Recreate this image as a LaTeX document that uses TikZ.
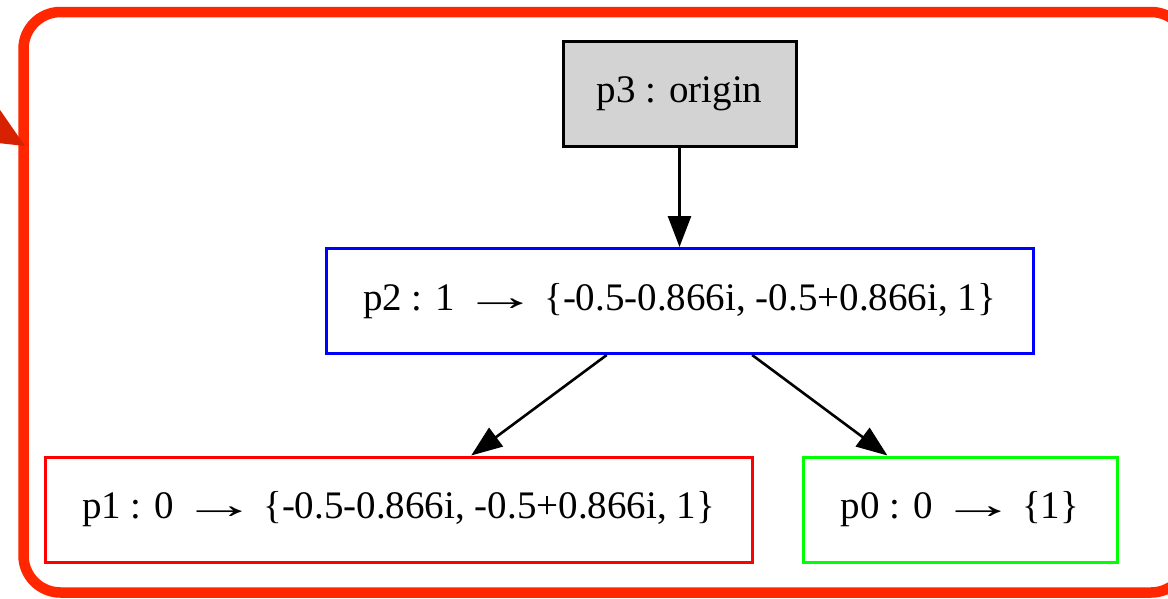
\documentclass[tikz,border=0pt]{standalone}
\usepackage{fontspec}
\setmainfont{Liberation Serif}
\usetikzlibrary{arrows.meta}
\definecolor{framered}{RGB}{255,38,0}
\definecolor{tipred}{RGB}{214,34,0}
\definecolor{boxgray}{RGB}{211,211,211}
\definecolor{gvblue}{RGB}{0,0,255}
\definecolor{gvred}{RGB}{255,0,0}
\definecolor{gvgreen}{RGB}{0,255,0}
% long "maps to" arrow between a state and its value set
\newcommand{\mapsarrow}{\hspace{7pt}\scalebox{1.95}[1.05]{→}\hspace{6pt}}
\tikzset{
  statebox/.style={draw, rectangle, line width=3pt, inner sep=0pt,
    minimum height=105pt, font=\fontsize{39}{44}\selectfont},
  edge/.style={line width=2.6pt, -{Triangle[length=31pt,width=23pt]}},
}
\begin{document}
\begin{tikzpicture}[x=1pt,y=-1pt]
  \useasboundingbox (0,0) rectangle (1168,598);
  \clip (0,0) rectangle (1168,598);
  % enclosing cluster frame
  \draw[framered, line width=10.5pt, rounded corners=37pt] (23.5,12) rectangle (1188,592.5);
  \fill[tipred] (-2,107) -- (25,146) -- (-2,143) -- cycle;
  % states
  \node[statebox, fill=boxgray, minimum width=233pt] (p3) at (679.5,93.5) {p3 : origin};
  \node[statebox, draw=gvblue, minimum width=707pt] (p2) at (679.5,301) {p2 : 1\mapsarrow\{-0.5-0.866i, -0.5+0.866i, 1\}};
  \node[statebox, draw=gvred, minimum width=707pt] (p1) at (398.5,509.5) {p1 : 0\mapsarrow\{-0.5-0.866i, -0.5+0.866i, 1\}};
  \node[statebox, draw=gvgreen, minimum width=314pt] (p0) at (960,509.5) {p0 : 0\mapsarrow\{1\}};
  % transitions
  \draw[edge] (p3) -- (p2);
  \draw[edge] (p2) -- (p1);
  \draw[edge] (p2) -- (p0);
\end{tikzpicture}
\end{document}
